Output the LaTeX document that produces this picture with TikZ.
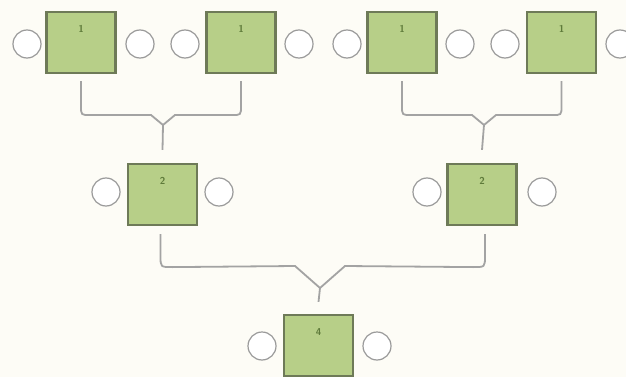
\documentclass[tikz,border=0pt]{standalone}
\usetikzlibrary{calc}
\definecolor{bgc}{HTML}{FDFCF6}
\definecolor{boxfill}{HTML}{B7CF88}
\definecolor{boxline}{HTML}{6E7A58}
\definecolor{circline}{HTML}{9A9A9A}
\definecolor{conn}{HTML}{A3A3A3}
\definecolor{txtc}{HTML}{5E7A3A}
\begin{document}
\begin{tikzpicture}[x=1pt,y=-1pt,
  sq/.style={draw=boxline,line width=2.2pt,fill=boxfill,minimum width=69pt,minimum height=61pt,inner sep=0pt},
  lab/.style={text=txtc,font=\sffamily\bfseries\fontsize{10}{10}\selectfont},
  ring/.style={draw=circline,line width=1.2pt,fill=white,circle,minimum size=28pt,inner sep=0pt},
  cn/.style={draw=conn,line width=1.8pt}]
\fill[bgc] (0,0) rectangle (626,377);
\useasboundingbox (0,0) rectangle (626,377);
\begin{scope}
\clip (0,0) rectangle (626,377);
% top row boxes
\node[sq] (t1) at (81,42.5) {};
\node[sq] (t2) at (241,42.5) {};
\node[sq] (t3) at (402,42.5) {};
\node[sq] (t4) at (561.5,42.5) {};
% middle boxes
\node[sq] (m1) at (162.5,194.5) {};
\node[sq] (m2) at (482,194.5) {};
% bottom box
\node[sq] (r) at (318.5,345.5) {};
% labels
\node[lab] (lt1) at ($(t1.north)+(0,18)$) {1};
\node[lab] (lt2) at ($(t2.north)+(0,18)$) {1};
\node[lab] (lt3) at ($(t3.north)+(0,18)$) {1};
\node[lab] (lt4) at ($(t4.north)+(0,18)$) {1};
\node[lab] (lm1) at ($(m1.north)+(0,18)$) {2};
\node[lab] (lm2) at ($(m2.north)+(0,18)$) {2};
\node[lab] (lr) at ($(r.north)+(0,18)$) {4};
% circles
\node[ring] (c1) at (27,44) {};
\node[ring] (c2) at (140,44) {};
\node[ring] (c3) at (185,44) {};
\node[ring] (c4) at (299,44) {};
\node[ring] (c5) at (347,44) {};
\node[ring] (c6) at (460,44) {};
\node[ring] (c7) at (505,44) {};
\node[ring] (c8) at (620,44) {};
\node[ring] (c9) at (106,192) {};
\node[ring] (c10) at (219,192) {};
\node[ring] (c11) at (427,192) {};
\node[ring] (c12) at (542,192) {};
\node[ring] (c13) at (262,346) {};
\node[ring] (c14) at (377,346) {};
% connectors
\coordinate (v1) at (163,125);
\coordinate (v2) at (484,125);
\coordinate (v3) at (320,288);
\draw[cn] ($(t1.south)+(0,7)$) -- ($(t1.south)+(0,32)$) .. controls ($(t1.south)+(0,41)$) .. ($(t1.south)+(10,41)$) -- (151,115) -- (v1);
\draw[cn] ($(t2.south)+(0,7)$) -- ($(t2.south)+(0,32)$) .. controls ($(t2.south)+(0,41)$) .. ($(t2.south)+(-10,41)$) -- (175,115) -- (v1);
\draw[cn] (v1) -- ($(m1.north)+(0,-13)$);
\draw[cn] ($(t3.south)+(0,7)$) -- ($(t3.south)+(0,32)$) .. controls ($(t3.south)+(0,41)$) .. ($(t3.south)+(10,41)$) -- (472,115) -- (v2);
\draw[cn] ($(t4.south)+(0,7)$) -- ($(t4.south)+(0,32)$) .. controls ($(t4.south)+(0,41)$) .. ($(t4.south)+(-10,41)$) -- (496,115) -- (v2);
\draw[cn] (v2) -- ($(m2.north)+(0,-13)$);
\draw[cn] ($(m1.south)+(-2,8)$) -- ($(m1.south)+(-2,30)$) .. controls ($(m1.south)+(-2,41)$) .. ($(m1.south)+(10,41)$) -- (295,266) -- (v3);
\draw[cn] ($(m2.south)+(3,8)$) -- ($(m2.south)+(3,30)$) .. controls ($(m2.south)+(3,41)$) .. ($(m2.south)+(-9,41)$) -- (345,266) -- (v3);
\draw[cn] (v3) -- ($(r.north)+(0,-12)$);
\end{scope}
\end{tikzpicture}
\end{document}
